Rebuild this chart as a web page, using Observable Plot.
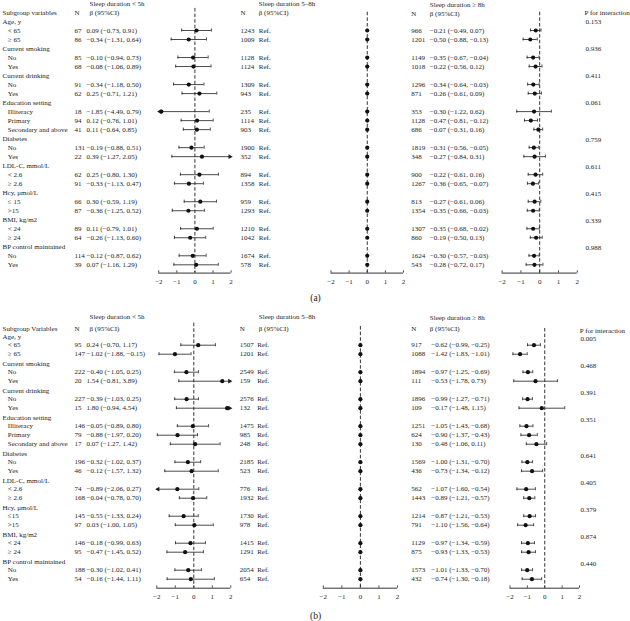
<!DOCTYPE html>
<html><head><meta charset="utf-8">
<script src="https://cdn.jsdelivr.net/npm/d3@7"></script>
<script src="https://cdn.jsdelivr.net/npm/@observablehq/plot@0.6"></script>
<style>
body{margin:0;background:#fff;}
#chart{position:relative;width:630px;height:621px;overflow:hidden;background:#fff;}
#chart svg{position:absolute;left:0;top:0;}
</style></head><body><div id="chart"></div>
<script>
// ---------- shared labels ----------
const groups = ["Age, y","Current smoking","Current drinking","Education setting","Diabetes","LDL-C, mmol/L","Hcy, μmol/L","BMI, kg/m2","BP control maintained"];
const subgroupsA = [["< 65","≥ 65"],["No","Yes"],["No","Yes"],["Illiteracy","Primary","Secondary and above"],["No","Yes"],["< 2.6","≥ 2.6"],["≤ 15",">15"],["< 24","≥ 24"],["No","Yes"]];
const subgroupsB = [["< 65","≥ 65"],["No","Yes"],["No","Yes"],["Illiteracy","Primary","Secondary and above"],["No","Yes"],["< 2.6","≥ 2.6"],["≤15",">15"],["< 24","≥ 24"],["No","Yes"]];
const ticks = [-2,-1,0,1,2];

// ---------- panel (a) ----------
const nShortA = [67,86,85,68,91,62,18,94,41,131,22,62,91,66,87,89,64,114,39];
const betaShortA = [0.09,-0.34,-0.10,-0.08,-0.34,0.25,-1.85,0.12,0.11,-0.19,0.39,0.25,-0.33,0.30,-0.36,0.11,-0.26,-0.12,0.07];
const loShortA = [-0.73,-1.31,-0.94,-1.06,-1.18,-0.71,-4.49,-0.76,-0.64,-0.88,-1.27,-0.80,-1.13,-0.59,-1.25,-0.79,-1.13,-0.87,-1.16];
const hiShortA = [0.91,0.64,0.73,0.89,0.50,1.21,0.79,1.01,0.85,0.51,2.05,1.30,0.47,1.19,0.52,1.01,0.60,0.62,1.29];
const nMidA = [1243,1009,1128,1124,1309,943,235,1114,903,1900,352,894,1358,959,1293,1210,1042,1674,578];
const nLongA = [966,1201,1149,1018,1296,871,353,1128,686,1819,348,900,1267,813,1354,1307,860,1624,543];
const betaLongA = [-0.21,-0.50,-0.35,-0.22,-0.34,-0.26,-0.30,-0.47,-0.07,-0.31,-0.27,-0.22,-0.36,-0.27,-0.35,-0.35,-0.19,-0.30,-0.28];
const loLongA = [-0.49,-0.88,-0.67,-0.56,-0.64,-0.61,-1.22,-0.81,-0.31,-0.56,-0.84,-0.61,-0.65,-0.61,-0.66,-0.68,-0.50,-0.57,-0.72];
const hiLongA = [0.07,-0.13,-0.04,0.12,-0.03,0.09,0.62,-0.12,0.16,-0.05,0.31,0.16,-0.07,0.06,-0.03,-0.02,0.13,-0.03,0.17];
const pA = ["0.153","0.936","0.411","0.061","0.759","0.611","0.415","0.339","0.988"];

// ---------- panel (b) ----------
const nShortB = [95,147,222,20,227,15,146,79,17,196,46,74,168,145,97,146,95,188,54];
const betaShortB = [0.24,-1.02,-0.40,1.54,-0.39,1.80,-0.05,-0.88,0.07,-0.32,-0.12,-0.89,-0.04,-0.55,0.03,-0.18,-0.47,-0.30,-0.16];
const loShortB = [-0.70,-1.88,-1.05,-0.81,-1.03,-0.94,-0.89,-1.97,-1.27,-1.02,-1.57,-2.06,-0.78,-1.33,-1.00,-0.99,-1.45,-1.02,-1.44];
const hiShortB = [1.17,-0.15,0.25,3.89,0.25,4.54,0.80,0.20,1.42,0.37,1.32,0.27,0.70,0.24,1.05,0.63,0.52,0.41,1.11];
const nMidB = [1507,1201,2549,159,2576,132,1475,985,248,2185,523,776,1932,1730,978,1415,1291,2054,654];
const nLongB = [917,1088,1894,111,1896,109,1251,624,130,1569,436,562,1443,1214,791,1129,875,1573,432];
const betaLongB = [-0.62,-1.42,-0.97,-0.53,-0.99,-0.17,-1.05,-0.90,-0.48,-1.00,-0.73,-1.07,-0.89,-0.87,-1.10,-0.97,-0.93,-1.01,-0.74];
const loLongB = [-0.99,-1.83,-1.25,-1.78,-1.27,-1.48,-1.43,-1.37,-1.06,-1.31,-1.34,-1.60,-1.21,-1.21,-1.56,-1.34,-1.33,-1.33,-1.30];
const hiLongB = [-0.25,-1.01,-0.69,0.73,-0.71,1.15,-0.68,-0.43,0.11,-0.70,-0.12,-0.54,-0.57,-0.53,-0.64,-0.59,-0.53,-0.70,-0.18];
const pB = ["0.005","0.468","0.391","0.351","0.641","0.405","0.379","0.874","0.440"];

// ---------- helpers ----------
const FONT = "Liberation Serif, Times New Roman, DejaVu Serif, serif";
const INK = "#1c1c1c";
const fmt = v => (v < 0 ? "\u2212" : "") + Math.abs(v).toFixed(2);
const ci = (b, l, h) => `${fmt(b)} (${fmt(l)}, ${fmt(h)})`;
const tickFmt = d => d < 0 ? "\u2212" + Math.abs(d) : String(d);
const chart = document.getElementById("chart");

function buildPanel(cfg) {
  const rows = []; const headers = [];
  let r = 0, k = 0;
  groups.forEach((g, gi) => {
    headers.push({row: r, label: g, p: cfg.p[gi]});
    r++;
    cfg.subs[gi].forEach(s => {
      rows.push({row: r, label: s,
        n1: cfg.nShort[k], b1: cfg.betaShort[k], l1: cfg.loShort[k], h1: cfg.hiShort[k],
        n2: cfg.nMid[k],
        n3: cfg.nLong[k], b3: cfg.betaLong[k], l3: cfg.loLong[k], h3: cfg.hiLong[k]});
      r++; k++;
    });
  });
  const y = {domain: [1, 27], range: cfg.yRange, axis: null};
  const base = {width: 630, height: 621, margin: 0,
    style: {background: "transparent", fontFamily: FONT, fontSize: "7px", overflow: "visible"}};
  const C = cfg.cols;
  const H1 = cfg.head1, H2 = cfg.head2;
  const T = (data, o) => Plot.text(data, Object.assign({textAnchor: "start", lineAnchor: "middle", fontSize: 7, fill: INK, fontFamily: FONT}, o));

  const headerTexts = [
    {x: C.group, row: H2, t: cfg.subgroupTitle},
    {x: C.n1, row: H2, t: "N"},
    {x: C.h1, row: H1, t: "Sleep duration < 5h"},
    {x: C.h1, row: H2, t: "\u03B2 (95%CI)"},
    {x: C.n2, row: H2, t: "N"},
    {x: C.h2, row: H1, t: "Sleep duration 5\u20138h"},
    {x: C.h2, row: H2, t: "\u03B2 (95%CI)"},
    {x: C.n3, row: cfg.head2b, t: "N"},
    {x: C.h3, row: cfg.head1b, t: "Sleep duration \u2265 8h"},
    {x: C.h3, row: cfg.head2b, t: "\u03B2 (95%CI)"},
    {x: C.pHead, row: cfg.headP, t: "P for interaction"}
  ];
  const textPlot = Plot.plot({...base, x: {type: "identity", axis: null}, y,
    marks: [
      T(headerTexts, {x: "x", y: "row", text: "t"}),
      T(headers, {x: () => C.group, y: d => d.row + cfg.gOffset, text: "label"}),
      T(headers, {x: () => C.p, y: d => d.row + cfg.pOffset, text: "p"}),
      T(rows, {x: () => C.sub, y: "row", text: "label"}),
      T(rows, {x: () => C.n1, y: "row", text: d => String(d.n1)}),
      T(rows, {x: () => C.b1, y: "row", text: d => ci(d.b1, d.l1, d.h1)}),
      T(rows, {x: () => C.n2, y: "row", text: d => String(d.n2)}),
      T(rows, {x: () => C.ref, y: "row", text: () => "Ref."}),
      T(rows, {x: () => C.n3, y: "row", text: d => String(d.n3)}),
      T(rows, {x: () => C.b3, y: "row", text: d => ci(d.b3, d.l3, d.h3)}),
      Plot.text([cfg.tag], {x: () => 315, y: () => cfg.tagRow, text: d => d, fontSize: 9.5, fill: INK, fontFamily: FONT, textAnchor: "middle", lineAnchor: "middle"})
    ]});
  chart.appendChild(textPlot);

  const axisRow = cfg.axisRow;
  function forest(xr, dashTop, acc) {
    const marks = [
      Plot.ruleX([0], {x: d => d, y1: () => dashTop, y2: () => axisRow, stroke: INK, strokeWidth: 0.9, strokeDasharray: "3.6,2"}),
      Plot.ruleY([axisRow], {y: d => d, x1: () => -2, x2: () => 2, stroke: INK, strokeWidth: 0.9}),
      Plot.ruleX(ticks, {x: d => d, y1: () => axisRow, y2: () => axisRow - 0.25, stroke: INK, strokeWidth: 0.8}),
      Plot.text(ticks, {x: d => d, y: () => axisRow + 0.95, text: tickFmt, fontSize: 7, fill: INK, fontFamily: FONT, textAnchor: "middle", lineAnchor: "middle"})
    ];
    if (acc) {
      const [b, l, h] = acc;
      marks.push(
        Plot.ruleY(rows, {y: "row", x1: d => Math.max(d[l], -2), x2: d => Math.min(d[h], 2), stroke: "#2a2a2a", strokeWidth: 0.85}),
        Plot.ruleX(rows.filter(d => d[l] >= -2), {x: l, y1: d => d.row - 0.17, y2: d => d.row + 0.17, stroke: "#2a2a2a", strokeWidth: 0.85}),
        Plot.ruleX(rows.filter(d => d[h] <= 2), {x: h, y1: d => d.row - 0.17, y2: d => d.row + 0.17, stroke: "#2a2a2a", strokeWidth: 0.85}),
        Plot.dot(rows.filter(d => d[h] > 2), {x: d => Math.min(d[h], 2), y: "row", symbol: "triangle", rotate: 90, r: 1.8, fill: INK, dx: -1.2}),
        Plot.dot(rows.filter(d => d[l] < -2), {x: d => Math.max(d[l], -2), y: "row", symbol: "triangle", rotate: -90, r: 1.8, fill: INK, dx: 1.2}),
        Plot.dot(rows, {x: b, y: "row", r: 2.1, fill: "#111", stroke: "none"})
      );
    } else {
      marks.push(Plot.dot(rows, {x: () => 0, y: "row", r: 2.1, fill: "#111", stroke: "none"}));
    }
    return Plot.plot({...base, x: {domain: [-2, 2], range: xr, axis: null}, y, marks});
  }
  chart.appendChild(forest(cfg.x1, cfg.dash[0], ["b1", "l1", "h1"]));
  chart.appendChild(forest(cfg.x2, cfg.dash[1], null));
  chart.appendChild(forest(cfg.x3, cfg.dash[2], ["b3", "l3", "h3"]));
}

buildPanel({
  subs: subgroupsA, subgroupTitle: "Subgroup variables", tag: "(a)", tagRow: 30.7,
  nShort: nShortA, betaShort: betaShortA, loShort: loShortA, hiShort: hiShortA,
  nMid: nMidA, nLong: nLongA, betaLong: betaLongA, loLong: loLongA, hiLong: hiLongA, p: pA,
  yRange: [30, 264.3], head1: -1.95, head2: -0.93, head1b: -1.9, head2b: -0.9, headP: -0.93, pOffset: 0.07, gOffset: 0,
  axisRow: 27.92,
  cols: {group: 2, sub: 7.3, n1: 74, b1: 86, h1: 89, n2: 240, ref: 258.3, h2: 258.3, n3: 410.7, b3: 429.3, h3: 429.3, pHead: 584, p: 585},
  x1: [158.2, 230.6], x2: [330.5, 403], x3: [501.6, 576.8],
  dash: [-1.45, -1.03, -1.03]
});

buildPanel({
  subs: subgroupsB, subgroupTitle: "Subgroup Variables", tag: "(b)", tagRow: 31.03,
  nShort: nShortB, betaShort: betaShortB, loShort: loShortB, hiShort: hiShortB,
  nMid: nMidB, nLong: nLongB, betaLong: betaLongB, loLong: loLongB, hiLong: hiLongB, p: pB,
  yRange: [344.7, 578.7], head1: -2.19, head2: -0.86, head1b: -2.04, head2b: -0.86, headP: -0.62, pOffset: 0.3, gOffset: 0.1,
  axisRow: 28.0,
  cols: {group: 2, sub: 7.3, n1: 74, b1: 86, h1: 89, n2: 239.3, ref: 256.7, h2: 258.3, n3: 410.7, b3: 430.7, h3: 429.3, pHead: 579.3, p: 580},
  x1: [156.3, 230.3], x2: [322.8, 397], x3: [509.5, 579],
  dash: [-1.45, -1.08, -0.86]
});
</script>
</body></html>
